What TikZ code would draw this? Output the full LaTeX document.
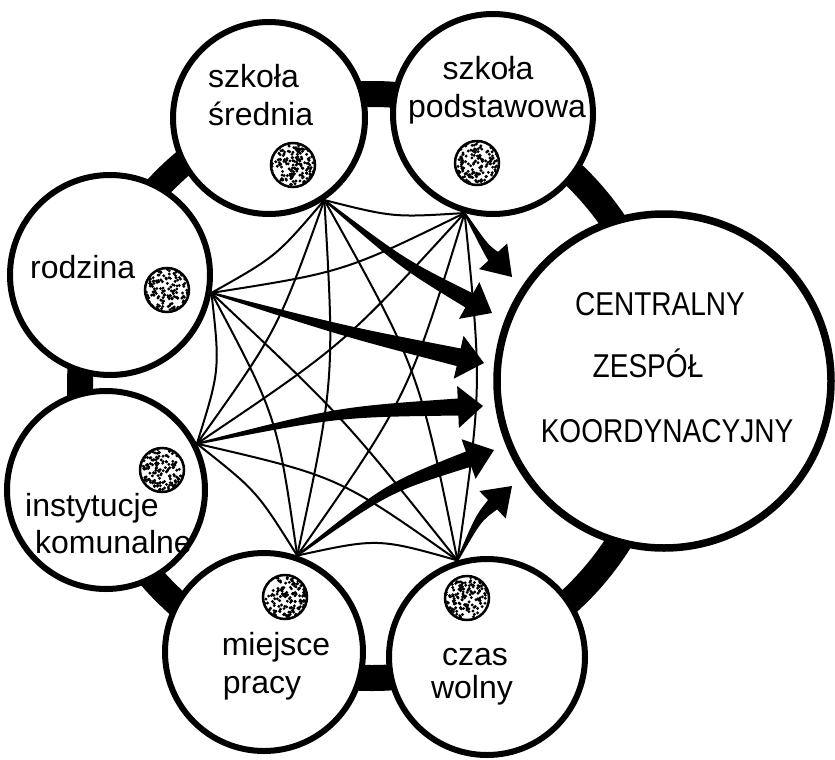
\documentclass[tikz,border=0pt]{standalone}
\usepackage{fontspec}
\setmainfont{Liberation Sans}
\newfontfamily\capfont{Liberation Sans}[FakeStretch=0.85]
\usetikzlibrary{calc}

% tapered arrow: #1 from, #2 tip, #3 bend offset, #4 shaft half width, #5 head half width, #6 head length
\newcommand{\tparrow}[6]{%
  \coordinate (tpP) at ($(#1)!0.5!(#2)!#3!90:(#2)$);
  \coordinate (tpH) at ($(#2)!#6!(tpP)$);
  \fill ($(#1)!1pt!90:(tpP)$) .. controls ($(tpP)!#4*0.6!90:(#2)$) .. ($(tpH)!#4!90:(#2)$)
     -- ($(tpH)!#5!90:(#2)$) -- (#2) -- ($(tpH)!#5!-90:(#2)$) -- ($(tpH)!#4!-90:(#2)$)
     .. controls ($(tpP)!#4*0.6!-90:(#2)$) .. ($(#1)!1pt!-90:(tpP)$) -- cycle;
}
% thin curved link: #1 from, #2 to, #3 control offset (positive = left of travel)
\newcommand{\arcedge}[3]{%
  \draw[link] (#1) .. controls ($(#1)!0.5!(#2)!#3!90:(#2)$) .. (#2);
}
% stippled small disc
\newcommand{\stipple}[1]{%
  \begin{scope}
    \clip (#1.center) circle (21pt);
    \foreach \k in {1,...,170}{\fill ($(#1.center)+(rand*21,rand*21)$) circle (1.6pt);}
  \end{scope}
}

\begin{document}
\begin{tikzpicture}[x=1pt,y=-1pt,
  ringband/.style={line width=26pt},
  smallc/.style={circle,draw,line width=6pt,fill=white,inner sep=0pt},
  bigc/.style={circle,draw,line width=7.5pt,fill=white,inner sep=0pt,minimum size=334pt},
  dotc/.style={circle,draw,line width=2.5pt,inner sep=0pt,minimum size=44pt},
  lbl/.style={inner sep=0pt,font=\fontsize{32}{38}\selectfont},
  captext/.style={inner sep=0pt,font=\capfont\fontsize{33}{40}\selectfont},
  link/.style={line width=2pt}]
\useasboundingbox (0,0) rectangle (835,760);
\pgfmathsetseed{4711}

% thick ring linking the circles
\draw[ringband] (372,386) circle (292pt);

% circles
\node[smallc,minimum size=192pt] (sr) at (269,118) {};
\node[smallc,minimum size=200pt] (po) at (493,114) {};
\node[smallc,minimum size=200pt] (ro) at (110,275) {};
\node[smallc,minimum size=198pt] (in) at (106,490) {};
\node[smallc,minimum size=198pt] (mi) at (264,652) {};
\node[smallc,minimum size=196pt] (cz) at (487,657) {};
\node[bigc] (ce) at (664,381) {};

% stippled discs
\node[dotc] (srd) at (293,165) {}; \stipple{srd}
\node[dotc] (pod) at (477,163) {}; \stipple{pod}
\node[dotc] (rod) at (167,290) {}; \stipple{rod}
\node[dotc] (ind) at (162,470) {}; \stipple{ind}
\node[dotc] (mid) at (285,597) {}; \stipple{mid}
\node[dotc] (czd) at (467,598) {}; \stipple{czd}

% labels
\node[lbl,anchor=base west] (l1a) at (208,88) {szkoła};
\node[lbl,anchor=base west] (l1b) at (208,125) {średnia};
\node[lbl,anchor=base] (l2a) at (488,80) {szkoła};
\node[lbl,anchor=base] (l2b) at (497,117) {podstawowa};
\node[lbl,anchor=base west] (l3) at (30,278) {rodzina};
\node[lbl,anchor=base west] (l4a) at (25,516) {instytucje};
\node[lbl,anchor=base west] (l4b) at (35,553) {komunalne};
\node[lbl,anchor=base] (l5a) at (276,655) {miejsce};
\node[lbl,anchor=base] (l5b) at (262,693) {pracy};
\node[lbl,anchor=base] (l6a) at (475,665) {czas};
\node[lbl,anchor=base] (l6b) at (472,698) {wolny};
\node[captext,anchor=base] (c1) at (660,315) {CENTRALNY};
\node[captext,anchor=base] (c2) at (648,377) {ZESPÓŁ};
\node[captext,anchor=base] (c3) at (667,442) {KOORDYNACYJNY};

% connection points on the circles
\coordinate (A) at (sr.-56);
\coordinate (B) at (po.-106);
\coordinate (C) at (ro.-10);
\coordinate (D) at (in.27);
\coordinate (E) at (mi.71);
\coordinate (F) at (cz.107);

% thin links between all pairs
\arcedge{A}{B}{-11pt}
\arcedge{C}{D}{16pt}
\arcedge{D}{E}{13pt}
\arcedge{E}{F}{20pt}
\arcedge{B}{F}{21pt}
\arcedge{A}{C}{13pt}
\arcedge{C}{B}{-20pt}
\arcedge{A}{F}{30pt}
\arcedge{B}{E}{30pt}
\arcedge{A}{E}{24pt}
\arcedge{C}{E}{24pt}
\arcedge{C}{F}{13pt}
\arcedge{D}{A}{-19pt}
\arcedge{D}{B}{-21pt}
\arcedge{D}{F}{28pt}

% arrow tips in front of the central circle
\coordinate (t1) at (512,277);
\coordinate (t2) at (492,313);
\coordinate (t3) at (484,363);
\coordinate (t4) at (483,406);
\coordinate (t5) at (494,450);
\coordinate (t6) at (512,486);

\tparrow{B}{t1}{-4pt}{6.5pt}{19pt}{28pt}
\tparrow{A}{t2}{-9pt}{8pt}{21pt}{26pt}
\tparrow{C}{t3}{-4pt}{9pt}{22pt}{26pt}
\tparrow{D}{t4}{13pt}{8.5pt}{21pt}{25pt}
\tparrow{E}{t5}{17pt}{8pt}{21pt}{27pt}
\tparrow{F}{t6}{8pt}{6.5pt}{19pt}{27pt}
\end{tikzpicture}
\end{document}
